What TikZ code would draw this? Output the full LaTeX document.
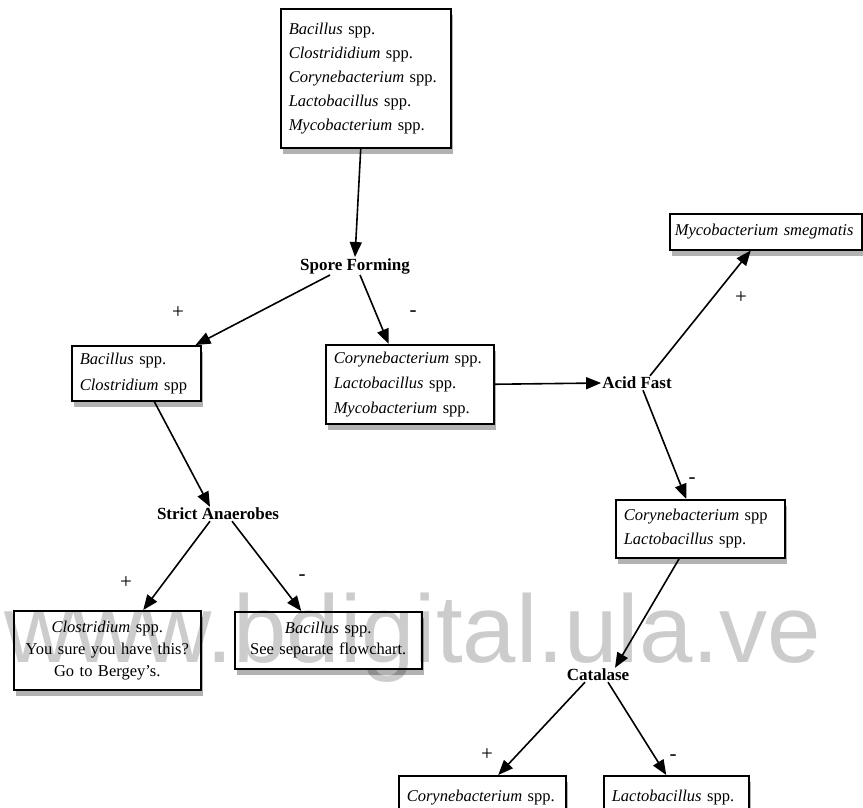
\documentclass[tikz,border=0pt]{standalone}
\usepackage{fontspec}
\setmainfont{Liberation Serif}
\newfontfamily\wmfont{Liberation Sans}
\usetikzlibrary{arrows.meta,shadows,calc}
\tikzset{
  bx/.style={draw=black, line width=1.5pt, fill=white, anchor=north west,
    inner xsep=8pt, inner ysep=0pt, font=\fontsize{16.5}{24}\selectfont,
    drop shadow={shadow xshift=2pt, shadow yshift=-6pt, opacity=0.3, fill=black}},
  lbl/.style={font=\fontsize{17}{20}\selectfont\bfseries, inner sep=1pt},
  sgn/.style={font=\fontsize{21}{24}\selectfont, inner sep=0pt},
  arr/.style={line width=1.6pt, -{Triangle[length=15pt,width=12pt]}},
}
\begin{document}
\begin{tikzpicture}[x=1pt,y=-1pt]
\useasboundingbox (0,0) rectangle (863,807);
\fill[white] (0,0) rectangle (863,807);
% boxes
\node[bx, text width=154pt, minimum height=139pt, align=left] (top) at (280,8)
  {\textit{Bacillus} spp.\\ \textit{Clostrididium} spp.\\ \textit{Corynebacterium} spp.\\ \textit{Lactobacillus} spp.\\ \textit{Mycobacterium} spp.};
\node[bx, text width=113pt, minimum height=55pt, align=left, font=\fontsize{16.5}{26}\selectfont] (left) at (71,345)
  {\textit{Bacillus} spp.\\ \textit{Clostridium} spp};
\node[bx, text width=152pt, minimum height=79pt, align=left, font=\fontsize{16.5}{25}\selectfont] (mid) at (325,344)
  {\textit{Corynebacterium} spp.\\ \textit{Lactobacillus} spp.\\ \textit{Mycobacterium} spp.};
\node[bx, inner xsep=5pt, text width=182pt, minimum height=36pt, align=left] (smeg) at (669,213)
  {\textit{Mycobacterium smegmatis}};
\node[bx, text width=153pt, minimum height=58pt, align=left] (corlac) at (615,499)
  {\textit{Corynebacterium} spp\\ \textit{Lactobacillus} spp.};
\node[bx, text width=171pt, minimum height=79pt, align=center, font=\fontsize{16.5}{22}\selectfont] (clos) at (13,610)
  {\textit{Clostridium} spp.\\ You sure you have this?\\ Go to Bergey's.};
\node[bx, text width=171pt, minimum height=57pt, align=center, font=\fontsize{16.5}{21}\selectfont] (bac) at (234,611)
  {\textit{Bacillus} spp.\\ See separate flowchart.};
\node[bx, text width=151pt, minimum height=44pt, align=left] (bcor) at (398,775)
  {\textit{Corynebacterium} spp.};
\node[bx, text width=129pt, minimum height=44pt, align=left] (blac) at (603,775)
  {\textit{Lactobacillus} spp.};
% labels
\node[lbl] (sf) at (355,266) {Spore Forming};
\node[lbl] (af) at (637,383) {Acid Fast};
\node[lbl] (sa) at (218,514) {Strict Anaerobes};
\node[lbl] (cat) at (598,675) {Catalase};
% arrows
\draw[arr] ([xshift=-5pt]top.south) -- ([xshift=0pt]sf.north);
\draw[arr] ([xshift=-25pt]sf.south) -- ([xshift=-6pt]left.north east);
\draw[arr] ([xshift=5pt]sf.south) -- ([xshift=-21pt]mid.north);
\draw[arr] (mid.east) -- (af.west);
\draw[arr] ([xshift=13pt]af.north) -- ([xshift=-15pt]smeg.south);
\draw[arr] ([xshift=6pt]af.south) -- ([xshift=-14pt]corlac.north);
\draw[arr] ([xshift=-21pt]corlac.south) -- ([xshift=17pt]cat.north);
\draw[arr] ([xshift=-13pt]cat.south) -- ([xshift=16pt]bcor.north);
\draw[arr] ([xshift=10pt]cat.south) -- ([xshift=-10pt]blac.north);
\draw[arr] ([xshift=18pt]left.south) -- ([xshift=-8pt]sa.north);
\draw[arr] ([xshift=-8pt]sa.south) -- ([xshift=36pt]clos.north);
\draw[arr] ([xshift=14pt]sa.south) -- ([xshift=-27pt]bac.north);
% signs
\node[sgn] (s1) at (178,313) {+};
\node[sgn] (s2) at (413,314) {-};
\node[sgn] (s3) at (741,298) {+};
\node[sgn] (s4) at (692,481) {-};
\node[sgn] (s5) at (126,583) {+};
\node[sgn] (s6) at (302,578) {-};
\node[sgn] (s7) at (487,755) {+};
\node[sgn] (s8) at (673,758) {-};
% watermark
\node[anchor=base west, inner sep=0pt, text=black, text opacity=0.2,
  font=\wmfont\fontsize{96}{96}\selectfont] (wm) at (4,662) {www.bdigital.ula.ve};
\end{tikzpicture}
\end{document}
